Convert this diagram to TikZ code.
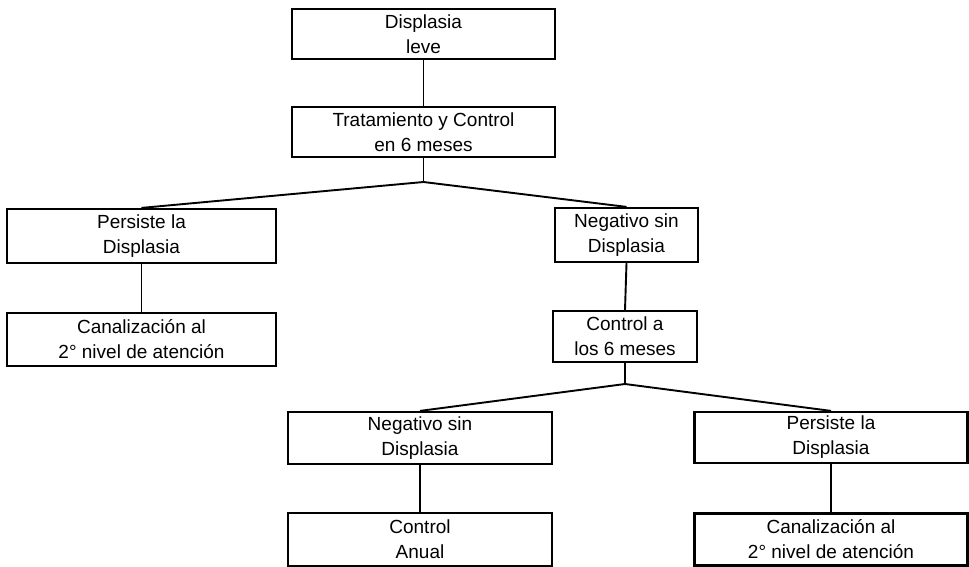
\documentclass[tikz,border=0pt]{standalone}
\usepackage{fontspec}
\setmainfont{Liberation Sans}
\begin{document}
\begin{tikzpicture}[x=1pt,y=-1pt,
  box/.style={draw, line width=2.2pt, rectangle, inner sep=0pt, align=center,
    font=\fontsize{19}{25}\selectfont},
  link/.style={line width=1.9pt}]
\useasboundingbox (0,0) rectangle (969,567);
\node[box, minimum width=263pt, minimum height=50pt] (b1) at (423.5,34) {Displasia\\leve};
\node[box, minimum width=263pt, minimum height=50pt] (b2) at (423.5,132) {Tratamiento y Control\\en 6 meses};
\node[box, minimum width=269pt, minimum height=54pt] (b3) at (141.5,236) {Persiste la\\Displasia};
\node[box, minimum width=143pt, minimum height=54pt] (b4) at (626.5,235) {Negativo sin\\Displasia};
\node[box, minimum width=269pt, minimum height=53pt] (b5) at (141.5,339.5) {Canalización al\\2° nivel de atención};
\node[box, minimum width=144pt, minimum height=51pt] (b6) at (625,336.5) {Control a\\los 6 meses};
\node[box, minimum width=264pt, minimum height=52pt] (b7) at (420,438) {Negativo sin\\Displasia};
\node[box, minimum width=273pt, minimum height=51pt] (b8) at (831,437.5) {Persiste la\\Displasia};
\node[box, minimum width=264pt, minimum height=53pt] (b9) at (420,539.5) {Control\\Anual};
\node[box, minimum width=273pt, minimum height=52pt] (b10) at (831,539.5) {Canalización al\\2° nivel de atención};
\coordinate (j1) at (423.5,182);
\coordinate (j2) at (625,384);
\draw[link] (b1.south) -- (b2.north);
\draw[link] (b2.south) -- (j1);
\draw[link] (b3.north) -- (j1) -- (b4.north);
\draw[link] (b3.south) -- (b5.north);
\draw[link] (b4.south) -- (b6.north);
\draw[link] (b6.south) -- (j2);
\draw[link] (b7.north) -- (j2) -- (b8.north);
\draw[link] (b7.south) -- (b9.north);
\draw[link] (b8.south) -- (b10.north);
\end{tikzpicture}
\end{document}
